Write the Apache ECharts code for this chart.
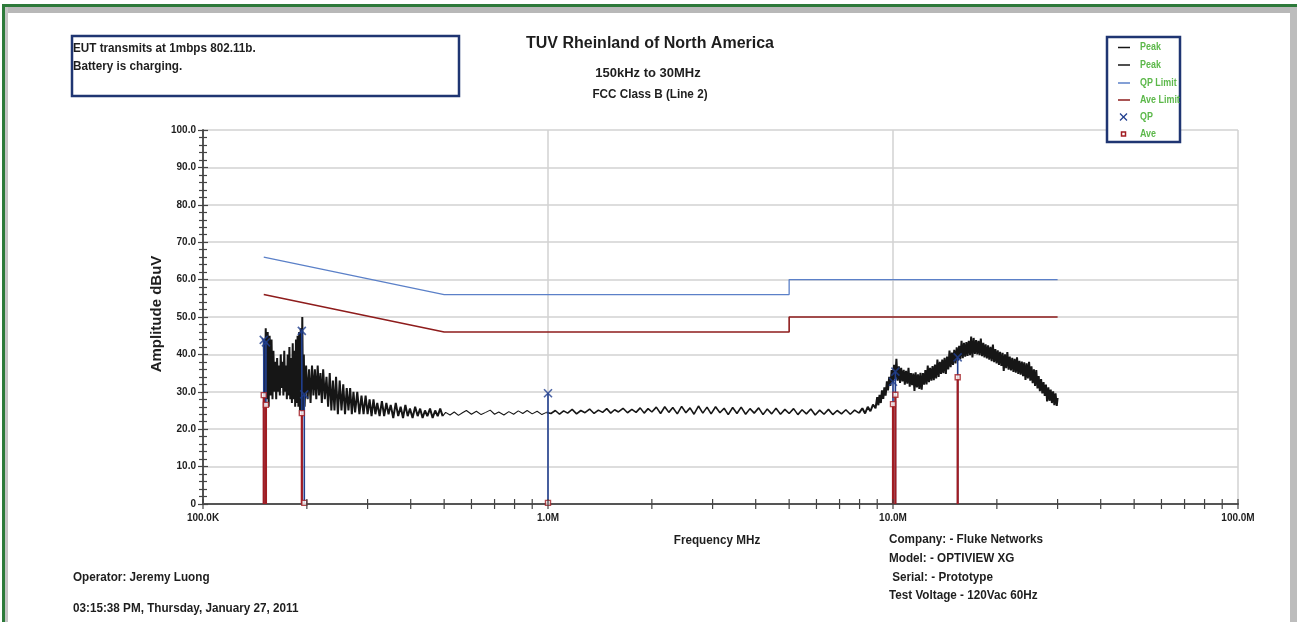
<!DOCTYPE html>
<html><head><meta charset="utf-8">
<script src="https://cdn.jsdelivr.net/npm/echarts@6/dist/echarts.min.js"></script>
<style>html,body{margin:0;padding:0;background:#fff;}#c{width:1297px;height:622px;}</style>
</head><body><div id="c"></div>
<script>
// ---- data (frequency in kHz, amplitude in dBuV) ----
const xTickLabels = {100: '100.0K', 1000: '1.0M', 10000: '10.0M', 100000: '100.0M'};
const xTickFreqs = [100,200,300,400,500,600,700,800,900,1000,2000,3000,4000,5000,6000,7000,8000,9000,10000,20000,30000,40000,50000,60000,70000,80000,90000,100000];
const qpLimitFreq = [150, 500, 5000, 5000, 30000];
const qpLimitVal  = [66, 56, 56, 60, 60];
const aveLimitFreq = [150, 500, 5000, 5000, 30000];
const aveLimitVal  = [56, 46, 46, 50, 50];
const qpFreq = [150, 152.2, 193.4, 196.6, 1000, 10000, 10160, 15400];
const qpVal  = [43.9, 43.2, 46.3, 29.3, 29.6, 32.7, 35.4, 39.2];
const aveVal = [29.1, 26.5, 24.3, 0.3, 0.3, 26.7, 29.2, 33.9];
// peak trace, 150 kHz - 500 kHz
const peakLow = [
 [150,44],[151,27],[152,47],[153,28],[154,46],[155,26],[156,45],[157,29],[158,44],[159,28],
 [160,41],[161,30],[162,38],[163,28],[164,39],[165,30],[166,37],[167,29],[168,40],[169,31],
 [170,38],[171,29],[172,41],[173,30],[174,37],[175,28],[176,40],[177,29],[178,42],[179,28],
 [180,39],[181,27],[182,43],[183,28],[184,41],[185,26],[186,44],[187,27],[188,45],[189,26],
 [190,46],[191,25],[192,47],[193,25],[194,50],[195,25],[196,40],[197,26],
 [199,37],[201,28],[203,36],[205,27],[207,37],[209,29],[211,36],[213,28],[215,37],[217,29],
 [219,35],[221,27],[223,36],[225.5,28],[228,34],[230.5,26],[233,35],[235.5,25],[238,33],[240.5,25],
 [243,34],[246,24],[249,33],[252,25],[255,32],[258,24],[261,31],[264,25],[267,31],[270,24],
 [273,30],[276,24.5],[280,30],[284,24],[288,29],[292,24],[296,29],[300,24],[304,28],[308,23.5],
 [312,28],[316,24],[320,27],[325,23.5],[330,27.5],[335,23.5],[340,27],[345,24],[350,26.5],[356,23],
 [362,27],[368,23.5],[374,26],[380,23],[386,26.5],[392,23.5],[398,25.5],[405,23],[412,26],[419,23.5],
 [426,25.5],[433,23],[440,25],[447,23.5],[455,25.5],[463,23],[471,25],[479,23.5],[487,25.5],[495,23.5]
];
// peak trace, 500 kHz - 1 MHz (thin)
const peakMid1 = [
 [495,23.5],[505,24.5],[520,23.8],[535,24.6],[550,23.7],[565,24.4],[580,25.0],[600,24.0],[620,24.8],[640,23.9],[660,24.5],
 [680,25.1],[700,24.0],[720,24.6],[745,23.8],[770,24.7],[795,24.0],[820,24.9],[845,24.2],[870,25.0],[900,24.1],
 [930,24.8],[960,23.9],[990,24.5]
];
// peak trace, 1 MHz - 8 MHz
const peakMid2 = [
 [990,24.5],[1020,24.2],[1050,25.0],[1080,24.0],[1110,24.9],[1140,24.3],[1175,25.3],[1210,24.1],[1245,25.0],[1280,24.4],[1320,25.4],
 [1360,24.2],[1400,25.1],[1440,24.5],[1480,25.5],[1520,24.3],[1560,25.2],[1600,24.6],[1650,25.6],[1700,24.4],[1750,25.3],
 [1800,24.5],[1850,25.7],[1900,24.3],[1950,25.5],[2000,24.6],[2060,25.9],[2120,24.2],[2180,26.0],[2240,24.5],[2300,25.8],
 [2370,24.1],[2440,26.1],[2510,24.4],[2580,25.7],[2650,24.0],[2730,26.2],[2810,24.3],[2890,25.9],[2970,24.1],[3060,26.0],
 [3150,24.4],[3240,25.6],[3330,23.9],[3430,25.8],[3530,24.2],[3630,25.9],[3740,24.0],[3850,25.5],[3960,24.3],[4080,25.7],
 [4200,23.9],[4320,25.4],[4450,24.1],[4580,25.6],[4720,24.0],[4860,25.3],[5000,24.2],[5150,25.5],[5300,23.9],[5450,25.2],
 [5610,24.1],[5780,25.4],[5950,23.8],[6130,25.1],[6310,24.0],[6500,25.3],[6690,23.9],[6890,25.0],[7090,24.1],[7300,25.2],
 [7520,24.0],[7740,25.1],[7970,24.3]
];
// peak trace, 8 MHz - 30 MHz
const peakHigh = [
 [7970,24.3],[8150,25.6],[8300,24.2],[8450,26.0],[8600,24.8],[8750,26.6],[8900,25.6],
 [9000,28.6],[9070,26.4],[9140,29.2],[9220,27.0],[9290,30.4],[9370,28.1],[9440,31.2],[9520,29.0],[9600,32.8],[9670,30.4],
 [9750,34.0],[9830,31.6],[9910,35.8],[9990,32.6],[10070,37.2],[10150,33.4],[10230,38.8],[10310,33.0],[10400,36.8],[10480,32.4],
 [10560,36.4],[10650,32.8],[10740,35.9],[10820,31.9],[10910,35.6],[11000,32.2],[11090,36.4],[11180,31.4],[11270,35.0],[11360,31.8],
 [11450,34.9],[11540,30.2],[11630,35.2],[11730,31.2],[11820,34.7],[11920,30.8],[12010,35.1],[12110,30.6],[12210,35.0],[12310,31.9],
 [12410,35.8],[12510,32.0],[12610,37.0],[12710,32.6],[12810,36.4],[12920,33.0],[13020,36.9],[13130,33.1],[13230,37.3],[13340,33.6],
 [13450,38.6],[13560,34.0],[13670,38.0],[13780,34.8],[13890,38.6],[14000,35.0],[14110,39.1],[14230,34.8],[14340,39.4],[14460,36.0],
 [14580,41.0],[14690,36.6],[14810,40.5],[14930,37.2],[15050,41.2],[15180,37.6],[15300,41.9],[15420,38.3],[15550,42.3],[15670,38.7],
 [15800,43.6],[15930,39.0],[16060,43.1],[16190,39.4],[16320,43.3],[16450,39.6],[16580,43.6],[16720,39.8],[16850,44.8],[16990,39.2],
 [17130,44.4],[17270,40.1],[17410,43.8],[17550,40.0],[17690,43.6],[17830,39.8],[17970,44.2],[18120,39.5],[18270,43.1],[18410,39.2],
 [18560,42.7],[18710,38.9],[18860,42.4],[19010,38.6],[19170,42.0],[19320,38.2],[19480,42.6],[19640,37.9],[19800,41.4],[19960,37.6],
 [20120,41.1],[20280,37.2],[20440,40.7],[20610,36.9],[20780,40.4],[20940,35.6],[21110,40.0],[21280,36.3],[21450,40.6],[21630,35.9],
 [21800,39.4],[21980,35.7],[22160,39.1],[22340,35.3],[22520,38.8],[22700,35.1],[22880,39.2],[23070,34.8],[23250,38.3],[23440,34.6],
 [23630,38.1],[23820,34.2],[24010,37.9],[24210,33.2],[24400,37.6],[24600,33.6],[24800,38.0],[25000,33.0],[25200,36.8],[25400,32.3],
 [25610,36.0],[25810,31.6],[26020,35.8],[26230,30.9],[26440,34.2],[26650,30.2],[26870,33.4],[27090,29.6],[27310,32.6],[27530,28.9],
 [27750,31.9],[27970,27.4],[28200,31.2],[28420,27.6],[28650,30.6],[28880,27.0],[29120,30.1],[29350,26.4],[29590,29.6],[29830,26.2],
 [30000,28.4]
];
const legendLabels = ['Peak', 'Peak', 'QP Limit', 'Ave Limit', 'QP', 'Ave'];
const headerLines = ['TUV Rheinland of North America', '150kHz to 30MHz', 'FCC Class B (Line 2)'];
const noteLines = ['EUT transmits at 1mbps 802.11b.', 'Battery is charging.'];
const infoLines = ['Company: - Fluke Networks', 'Model: - OPTIVIEW XG', ' Serial: - Prototype', 'Test Voltage - 120Vac 60Hz'];
const operatorLine = 'Operator: Jeremy Luong';
const dateLine = '03:15:38 PM, Thursday, January 27, 2011';

// ---- styles ----
const FONT = "'Liberation Sans',Arial,sans-serif";
const C_PEAK = '#161616', C_QPL = '#5b80c8', C_AVL = '#8e1c1c', C_QP = '#213f8f', C_AVE = '#a11c22';
const GREEN_TXT = '#5cb84a', NAVY = '#1f3572', TXT = '#1e1e1e';

const chart = echarts.init(document.getElementById('c'), null, {renderer: 'canvas'});

function stem(color, width) {
  return function (params, api) {
    const a = api.coord([api.value(0), 0]);
    const b = api.coord([api.value(0), api.value(1)]);
    return {type: 'line', shape: {x1: a[0], y1: a[1], x2: b[0], y2: b[1]}, style: {stroke: color, lineWidth: width}};
  };
}
function txt(t, x, y, size, align, sx, extra) {
  return Object.assign({type:'text', x:x, y:y, scaleX:sx, z:51,
    style:{text:t, font:'bold '+size+'px '+FONT, fill:TXT, align:align, verticalAlign:'middle'}}, extra || {});
}
function peakSeries(data, width) {
  return {name: 'Peak', type: 'line', showSymbol: false, data: data, lineStyle: {color: C_PEAK, width: width}, z: 4};
}

const graphic = [];
// frame
graphic.push({type:'rect', shape:{x:2,y:4,width:1295,height:3}, style:{fill:'#2d7a3a'}, silent:true});
graphic.push({type:'rect', shape:{x:2,y:4,width:3,height:618}, style:{fill:'#2d7a3a'}, silent:true});
graphic.push({type:'rect', shape:{x:5,y:7,width:1292,height:6}, style:{fill:'#b8b8b8'}, silent:true});
graphic.push({type:'rect', shape:{x:5,y:7,width:3,height:615}, style:{fill:'#c4c4c4'}, silent:true});
graphic.push({type:'rect', shape:{x:1290,y:7,width:7,height:615}, style:{fill:'#bdbdbd'}, silent:true});
// header
graphic.push(txt(headerLines[0], 650, 44, 16, 'center', 1));
graphic.push(txt(headerLines[1], 648, 73, 13, 'center', 1));
graphic.push(txt(headerLines[2], 650, 94, 13, 'center', 0.9));
// note box
graphic.push({type:'rect', shape:{x:72,y:36,width:387,height:60}, style:{fill:'#fff', stroke:NAVY, lineWidth:2.5}, z:50});
noteLines.forEach((t,i)=>graphic.push(txt(t, 73, 48+i*18.5, 13, 'left', 0.9)));
// legend box
graphic.push({type:'rect', shape:{x:1107,y:37,width:73,height:105}, style:{fill:'#fff', stroke:NAVY, lineWidth:2.5}, z:50});
const legY = [47.5, 65, 83, 100, 117, 134];
const legCol = [C_PEAK, C_PEAK, C_QPL, C_AVL];
legendLabels.forEach((t,i)=>{
  if (i < 4) graphic.push({type:'line', z:51, shape:{x1:1118,y1:legY[i],x2:1130,y2:legY[i]}, style:{stroke:legCol[i], lineWidth:1.5}});
  graphic.push({type:'text', x:1140, y:legY[i], z:51, scaleX:0.85, style:{text:t, font:'bold 10.5px '+FONT, fill:GREEN_TXT, align:'left', verticalAlign:'middle'}});
});
graphic.push({type:'polyline', z:51, shape:{points:[[1120,113.5],[1127,120.5]]}, style:{stroke:C_QP, lineWidth:1.3, fill:null}});
graphic.push({type:'polyline', z:51, shape:{points:[[1127,113.5],[1120,120.5]]}, style:{stroke:C_QP, lineWidth:1.3, fill:null}});
graphic.push({type:'rect', z:51, shape:{x:1121.5,y:132,width:4,height:4}, style:{fill:'#fff', stroke:C_AVE, lineWidth:1.5}});
// axis names
graphic.push(txt('Amplitude dBuV', 157, 314, 15, 'center', 1, {rotation: Math.PI/2}));
graphic.push(txt('Frequency MHz', 717, 540, 13, 'center', 0.9));
// info
const infoY = [539.5, 558.5, 577.5, 595.5];
infoLines.forEach((t,i)=>graphic.push(txt(t, 889, infoY[i], 13, 'left', 0.9)));
graphic.push(txt(operatorLine, 73, 577.5, 13, 'left', 0.9));
graphic.push(txt(dateLine, 73, 608, 13, 'left', 0.9));

const option = {
  backgroundColor: '#fff',
  animation: false,
  grid: {left: 203, right: 59, top: 130, bottom: 118, containLabel: false},
  xAxis: {
    type: 'log', logBase: 10, min: 100, max: 100000,
    axisLine: {lineStyle: {color: '#555', width: 2}},
    axisTick: {show: false},
    splitLine: {show: true, lineStyle: {color: '#d2d2d2', width: 1.5}},
    axisLabel: {margin: 9, formatter: v => xTickLabels[Math.round(v)] || '', fontFamily: FONT, fontWeight: 'bold', fontSize: 10, color: TXT}
  },
  yAxis: [{
    type: 'value', min: 0, max: 100, interval: 10,
    axisLine: {show: true, lineStyle: {color: '#555', width: 2}},
    axisTick: {show: true, length: 5, lineStyle: {color: '#444', width: 1.2}},
    minorTick: {show: true, splitNumber: 5, length: 4, lineStyle: {color: '#444', width: 1.2}},
    splitLine: {show: true, lineStyle: {color: '#d2d2d2', width: 1.5}},
    axisLabel: {margin: 7, formatter: v => v === 0 ? '0' : v.toFixed(1), fontFamily: FONT, fontWeight: 'bold', fontSize: 10, color: TXT}
  }, {
    type: 'value', min: 0, max: 100, interval: 10, position: 'left', offset: 0,
    axisLine: {show: false},
    axisTick: {show: true, inside: true, length: 5, lineStyle: {color: '#444', width: 1.2}},
    minorTick: {show: true, splitNumber: 5, length: 4, lineStyle: {color: '#444', width: 1.2}},
    splitLine: {show: false},
    axisLabel: {show: false}
  }],
  graphic: graphic,
  series: [
    {name: 'QP Limit', type: 'line', showSymbol: false, data: qpLimitFreq.map((f,i)=>[f, qpLimitVal[i]]), lineStyle: {color: C_QPL, width: 1.3}, z: 3},
    {name: 'Ave Limit', type: 'line', showSymbol: false, data: aveLimitFreq.map((f,i)=>[f, aveLimitVal[i]]), lineStyle: {color: C_AVL, width: 1.6}, z: 3},
    peakSeries(peakLow, 2.0),
    peakSeries(peakMid1, 1.1),
    peakSeries(peakMid2, 1.6),
    peakSeries(peakHigh, 2.0),
    {name: 'QP stems', type: 'custom', data: qpFreq.map((f,i)=>[f, qpVal[i]]), renderItem: stem(C_QP, 1.6), z: 5, clip: false},
    {name: 'Ave stems', type: 'custom', data: qpFreq.map((f,i)=>[f, aveVal[i]]), renderItem: stem(C_AVE, 2.2), z: 6, clip: false},
    {name: 'QP', type: 'scatter', data: qpFreq.map((f,i)=>[f, qpVal[i]]), symbol: 'path://M0,0L10,10M10,0L0,10', symbolSize: 8,
      itemStyle: {color: 'none', borderColor: C_QP, borderWidth: 1.6}, z: 7},
    {name: 'Ave', type: 'scatter', data: qpFreq.map((f,i)=>[f, aveVal[i]]), symbol: 'rect', symbolSize: 5,
      itemStyle: {color: '#fff', borderColor: C_AVE, borderWidth: 1.4}, z: 8},
    {name: 'x ticks', type: 'custom', data: xTickFreqs.map(f=>[f, 0]), clip: false, z: 9,
      renderItem: function (params, api) {
        const p = api.coord([api.value(0), 0]);
        return {type: 'line', shape: {x1: p[0], y1: p[1]-5, x2: p[0], y2: p[1]+5}, style: {stroke: '#444', lineWidth: 1.2}};
      }}
  ]
};
chart.setOption(option);
</script>
</body></html>
